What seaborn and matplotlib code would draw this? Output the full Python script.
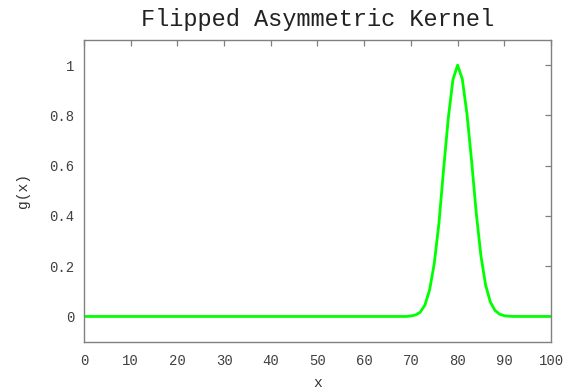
import numpy as np
import pandas as pd
import matplotlib
matplotlib.use("Agg")
import matplotlib.pyplot as plt
import seaborn as sns

# Kernel sampled at integer positions 0..100 (peak at x = 80)
x_values = list(range(0, 101))
kernel_left = [0.002, 0.006, 0.017, 0.045, 0.105, 0.21, 0.37, 0.585, 0.788, 0.942]   # x = 70..79
kernel_peak = [1.0]                                                                # x = 80
kernel_right = [0.945, 0.807, 0.618, 0.41, 0.24, 0.125, 0.058, 0.024, 0.009, 0.003, 0.001]  # x = 81..91
g_values = [0.0] * 70 + kernel_left + kernel_peak + kernel_right + [0.0] * 9

x_ticks = [0, 10, 20, 30, 40, 50, 60, 70, 80, 90, 100]
y_ticks = [0, 0.2, 0.4, 0.6, 0.8, 1]
y_tick_labels = ["0", "0.2", "0.4", "0.6", "0.8", "1"]

df = pd.DataFrame({"x": x_values, "g": g_values})

sns.set_style("white")
plt.rcParams["font.family"] = ["Liberation Mono", "DejaVu Sans Mono"]

fig = plt.figure(figsize=(5.71, 3.92), dpi=100)
ax = fig.add_axes([0.147, 0.1286, 0.818, 0.7694])

sns.lineplot(data=df, x="x", y="g", ax=ax, color="#00ff00", linewidth=2.0)

ax.set_xlim(0, 100)
ax.set_ylim(-0.1, 1.1)
ax.set_xticks(x_ticks)
ax.set_xticklabels([str(t) for t in x_ticks])
ax.set_yticks(y_ticks)
ax.set_yticklabels(y_tick_labels)

spine_color = "#808080"
for s in ax.spines.values():
    s.set_visible(True)
    s.set_color(spine_color)
    s.set_linewidth(1.0)

ax.tick_params(axis="both", which="both", direction="in", length=4, width=0.9,
               color=spine_color, top=True, right=True, labelsize=10,
               labelcolor="#404040", pad=7)
ax.tick_params(axis="x", pad=9)

ax.set_xlabel("x", fontsize=10.5, color="#333333", labelpad=6)
ax.set_ylabel("g(x)", fontsize=10.5, color="#333333", labelpad=14)
ax.set_title("Flipped Asymmetric Kernel", fontsize=17, color="#222222", pad=10)

fig.savefig("out.png", dpi=100)
